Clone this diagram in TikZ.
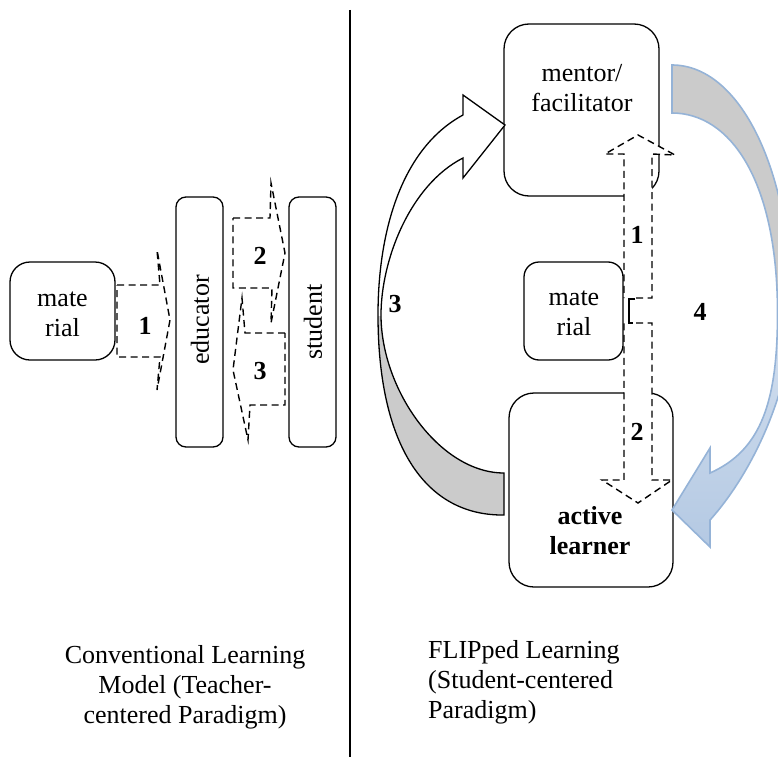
\documentclass[tikz,border=0pt]{standalone}
\usepackage{fontspec}
\setmainfont{Liberation Serif}
\definecolor{ribgray}{RGB}{203,203,203}
\definecolor{blueline}{RGB}{149,179,215}
\definecolor{bluedark}{RGB}{180,201,227}
\definecolor{bluelight}{RGB}{245,248,252}
\tikzset{
  box/.style={draw, line width=1.3pt, inner sep=0pt},
  dashline/.style={line width=1.4pt, dash pattern=on 7pt off 4.5pt},
  dasharr/.style={draw, dashline, fill=white},
  num/.style={font=\fontsize{26}{30}\selectfont\bfseries, inner sep=0pt},
  txt/.style={inner sep=0pt, align=center},
}
\begin{document}
\begin{tikzpicture}[x=1pt, y=-1pt, font=\fontsize{26}{30}\selectfont]
\useasboundingbox (0,0) rectangle (778,757);

% divider
\coordinate (dtop) at (350,10);
\coordinate (dbot) at (350,757);
\draw[line width=1.5pt] (dtop) -- (dbot);

% ---------- left: conventional ----------
\node[box, rounded corners=20pt, minimum width=105pt, minimum height=98pt] (matL) at (62.5,311) {};
\node[box, rounded corners=10pt, minimum width=47pt, minimum height=250pt] (edu) at (199.5,322) {};
\node[box, rounded corners=10pt, minimum width=47pt, minimum height=250pt] (stu) at (312.5,322) {};

\path[dasharr] (117,285) -- (160,285) -- (157,250) -- (170,320) -- (157,390) -- (160,357) -- (117,357) -- cycle;
\path[dasharr] (233,218) -- (270,218) -- (271,183) -- (285,253) -- (271,323) -- (272,288) -- (233,288) -- cycle;
\path[dasharr] (285,333) -- (245,333) -- (242,298) -- (233,370) -- (248,440) -- (250,405) -- (285,405) -- cycle;

\node[txt] (matLt) at (62.5,314) {mate\\rial};
\node[txt, rotate=90] (edut) at (200,320) {educator};
\node[txt, rotate=90] (stut) at (313,322) {student};
\node[num] (n1L) at (145,326) {1};
\node[num] (n2L) at (260,256) {2};
\node[num] (n3L) at (260,371) {3};

% ---------- right: flipped ----------
\node[box, rounded corners=25pt, minimum width=155pt, minimum height=172pt] (mentor) at (581.5,110) {};
\node[box, rounded corners=15pt, minimum width=99pt, minimum height=98pt] (matR) at (573.5,311) {};
\node[box, rounded corners=25pt, minimum width=164pt, minimum height=194pt] (learner) at (591,490) {};

% arrow 3 (white / gray ribbon): learner -> mentor
\begin{scope}
\path[fill=white] (504,515) .. controls (425,516) and (378,445) .. (378,315)
  .. controls (378,230) and (402,148) .. (463,115)
  -- (463,95) -- (505,125) -- (463,178) -- (463,158)
  .. controls (410,185) and (381,260) .. (381,315)
  .. controls (381,390) and (440,473) .. (504,473) -- cycle;
\clip (360,316) rectangle (520,540);
\path[fill=ribgray] (504,515) .. controls (425,516) and (378,445) .. (378,315)
  .. controls (378,230) and (402,148) .. (463,115)
  -- (463,95) -- (505,125) -- (463,178) -- (463,158)
  .. controls (410,185) and (381,260) .. (381,315)
  .. controls (381,390) and (440,473) .. (504,473) -- cycle;
\end{scope}
\draw[line width=1.3pt, line join=miter] (504,515) .. controls (425,516) and (378,445) .. (378,315)
  .. controls (378,230) and (402,148) .. (463,115)
  -- (463,95) -- (505,125) -- (463,178) -- (463,158)
  .. controls (410,185) and (381,260) .. (381,315)
  .. controls (381,390) and (440,473) .. (504,473) -- cycle;

% arrow 4 (gray / blue ribbon): mentor -> learner
\begin{scope}
\clip (0,0) rectangle (778,757);
\begin{scope}
\clip (600,0) rectangle (800,314);
\path[fill=ribgray] (672,65) .. controls (740,65) and (792,170) .. (792,315)
  .. controls (792,385) and (755,470) .. (710,520)
  -- (710,547) -- (672,510) -- (710,448) -- (710,473)
  .. controls (762,450) and (777.5,400) .. (777.5,313)
  .. controls (777.5,180) and (730,113) .. (672,113) -- cycle;
\end{scope}
\begin{scope}
\clip (600,314) rectangle (800,560);
\shade[top color=bluelight, bottom color=bluedark] (672,65) .. controls (740,65) and (792,170) .. (792,315)
  .. controls (792,385) and (755,470) .. (710,520)
  -- (710,547) -- (672,510) -- (710,448) -- (710,473)
  .. controls (762,450) and (777.5,400) .. (777.5,313)
  .. controls (777.5,180) and (730,113) .. (672,113) -- cycle;
\end{scope}
\draw[blueline, line width=1.6pt, line join=miter] (672,65) .. controls (740,65) and (792,170) .. (792,315)
  .. controls (792,385) and (755,470) .. (710,520)
  -- (710,547) -- (672,510) -- (710,448) -- (710,473)
  .. controls (762,450) and (777.5,400) .. (777.5,313)
  .. controls (777.5,180) and (730,113) .. (672,113) -- cycle;
\end{scope}

% dashed vertical arrows (material -> mentor, material -> learner)
\path[fill=white] (624,298) -- (624,154) -- (605,154) -- (638,135) -- (675,155) -- (652,154) -- (652,298) -- cycle;
\draw[dashline] (636,298) -- (652,298) -- (652,154) -- (675,155) -- (638,135) -- (605,154) -- (624,154) -- (624,298);
\path[fill=white] (624,323) -- (624,480) -- (602,480) -- (638,503) -- (672,480) -- (652,480) -- (652,323) -- cycle;
\draw[dashline] (636,323) -- (652,323) -- (652,480) -- (672,480) -- (638,503) -- (602,480) -- (624,480) -- (624,323);
\draw[line width=1.3pt] (635,299) -- (629,299) -- (629,323) -- (633,323);

\node[txt] (mentort) at (582,88) {mentor/\\facilitator};
\node[txt] (matRt) at (574,313) {mate\\rial};
\node[txt, font=\fontsize{26}{30}\selectfont\bfseries] (learnert) at (590,531) {active\\learner};
\node[num] (n1R) at (637,235) {1};
\node[num] (n2R) at (637,432) {2};
\node[num] (n3R) at (395,304) {3};
\node[num] (n4R) at (700,312) {4};

% captions
\node[txt] (capL) at (185,687) {Conventional Learning\\Model (Teacher-\\centered Paradigm)};
\node[txt, align=left, anchor=west] (capR) at (428,682) {FLIPped Learning\\(Student-centered\\Paradigm)};
\end{tikzpicture}
\end{document}
